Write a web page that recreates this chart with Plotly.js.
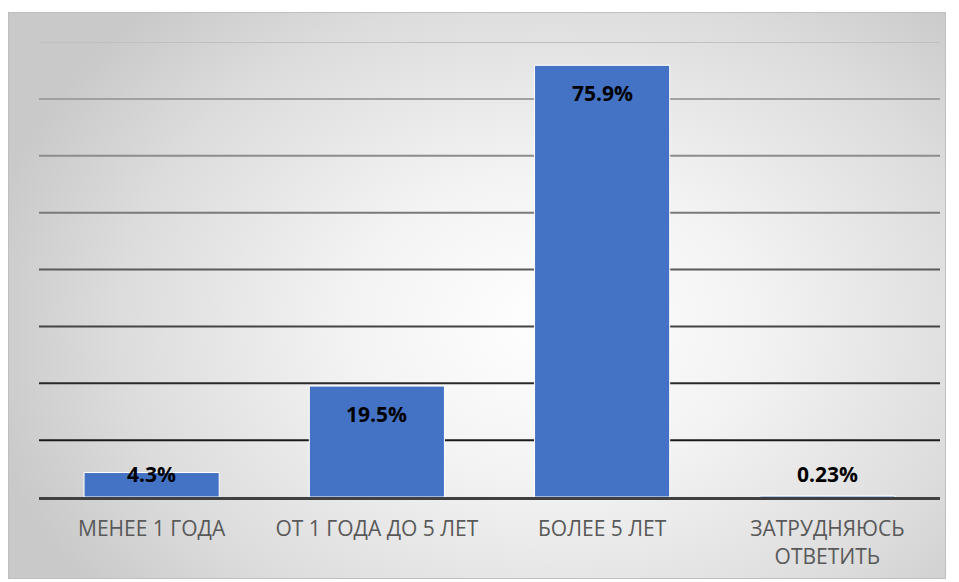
<!DOCTYPE html>
<html>
<head>
<meta charset="utf-8">
<script src="https://cdn.plot.ly/plotly-3.0.1.min.js"></script>
<style>
  html, body { margin: 0; padding: 0; background: #ffffff; }
  #wrap { position: relative; width: 959px; height: 582px; }
  #bg { position: absolute; left: 8px; top: 12px; width: 936px; height: 565px;
        border: 1.5px solid #bfbfbf;
        background: radial-gradient(ellipse 62% 78% at 58% 55%, #ffffff 0%, #f3f3f3 35%, #dcdcdc 75%, #c9c9c9 100%); }
  #chart { position: absolute; left: 0; top: 0; width: 959px; height: 582px; }
</style>
</head>
<body>
<div id="wrap">
  <div id="bg"></div>
  <div id="chart"></div>
</div>
<script>
// Data
const categories = ["МЕНЕЕ 1 ГОДА", "ОТ 1 ГОДА ДО 5 ЛЕТ", "БОЛЕЕ 5 ЛЕТ", "ЗАТРУДНЯЮСЬ<br>ОТВЕТИТЬ"];
const values = [4.3, 19.5, 75.9, 0.23];
const valueLabels = ["4.3%", "19.5%", "75.9%", "0.23%"];
const gridValues = [10, 20, 30, 40, 50, 60, 70, 80];
const gridColors = ["#1a1a1a", "#2a2a2a", "#444444", "#5a5a5a", "#7a7a7a", "#8c8c8c", "#a0a0a0", "#c0c0c0"];

const yMax = 80;
const plotTop = 42, plotBottom = 497;
const pxPerUnit = (plotBottom - plotTop) / yMax;

const trace = {
  type: "bar",
  x: categories,
  y: values,
  marker: { color: "#4472C4", line: { color: "#ffffff", width: 1 } },
  hoverinfo: "none",
  cliponaxis: false
};

const shapes = gridValues.map((v, i) => ({
  type: "line", xref: "paper", yref: "y", x0: 0, x1: 1, y0: v, y1: v,
  line: { color: gridColors[i], width: 2 }, layer: "below"
}));

const annotations = values.map((v, i) => {
  const hpx = v * pxPerUnit;
  return {
    x: categories[i], y: v, xref: "x", yref: "y",
    text: "<b>" + valueLabels[i] + "</b>",
    showarrow: false, yanchor: "middle", yshift: -Math.min(28, hpx - 23),
    font: { family: "Open Sans, Noto Sans, sans-serif", size: 21, color: "#000000" }
  };
});

const layout = {
  width: 959, height: 582,
  margin: { l: 39, r: 19, t: plotTop, b: 582 - plotBottom },
  paper_bgcolor: "rgba(0,0,0,0)",
  plot_bgcolor: "rgba(0,0,0,0)",
  bargap: 0.4,
  showlegend: false,
  xaxis: {
    type: "category",
    showgrid: false, zeroline: false,
    showline: true, linecolor: "#404040", linewidth: 3,
    ticks: "", ticklabelstandoff: 11,
    tickfont: { family: "Open Sans, Noto Sans, sans-serif", size: 21, color: "#595959" },
    fixedrange: true
  },
  yaxis: {
    range: [0, yMax],
    showgrid: false, zeroline: false, showline: false,
    showticklabels: false, ticks: "",
    fixedrange: true
  },
  shapes: shapes,
  annotations: annotations
};

Plotly.newPlot("chart", [trace], layout, { displayModeBar: false, staticPlot: true });
</script>
</body>
</html>
